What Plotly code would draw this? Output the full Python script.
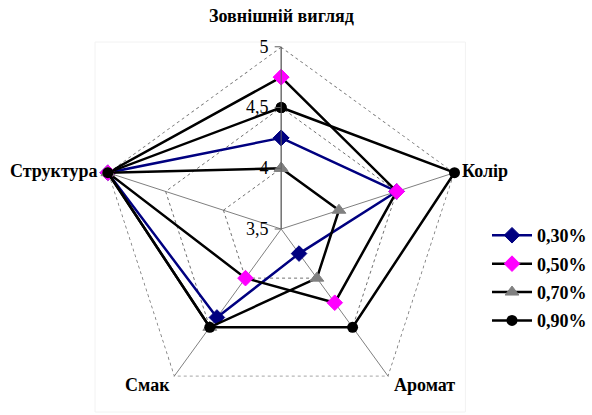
import math
import plotly.graph_objects as go

# Sensory profile categories (clockwise from the top)
categories = ["Зовнішній вигляд", "Колір", "Аромат", "Смак", "Структура"]

# Scores for each additive dose
series_names = ["0,30%", "0,50%", "0,70%", "0,90%"]
scores_030 = [4.25, 4.5, 3.75, 4.4, 5.0]
scores_050 = [4.75, 4.5, 4.25, 4.0, 5.0]
scores_070 = [4.0, 4.0, 4.0, 4.5, 5.0]
scores_090 = [4.5, 5.0, 4.5, 4.5, 5.0]

radial_ticks = [3.5, 4.0, 4.5, 5.0]
radial_tick_text = ["3,5", "4", "4,5", "5"]

FONT = "Liberation Serif, Times New Roman, serif"
W, H = 592, 415
DOM_X = [101 / W, 473 / W]
DOM_Y = [0.0, 372 / H]

styles = [
    dict(line=dict(color="#000080", width=2.5),
         marker=dict(symbol="diamond", size=12, color="#000080",
                     line=dict(color="#000080", width=1))),
    dict(line=dict(color="#000000", width=2.5),
         marker=dict(symbol="diamond", size=12, color="#FF00FF",
                     line=dict(color="#FF00FF", width=1))),
    dict(line=dict(color="#000000", width=2.5),
         marker=dict(symbol="triangle-up", size=12, color="#808080",
                     line=dict(color="#808080", width=1))),
    dict(line=dict(color="#000000", width=2.5),
         marker=dict(symbol="circle", size=11, color="#000000")),
]

fig = go.Figure()

# Outer dotted boundary at the axis maximum
fig.add_trace(go.Scatterpolar(
    r=[radial_ticks[-1]] * (len(categories) + 1),
    theta=categories + categories[:1],
    mode="lines",
    line=dict(color="#707070", width=1.5, dash="dot"),
    showlegend=False, hoverinfo="skip",
))

for name, vals, st in zip(series_names,
                          [scores_030, scores_050, scores_070, scores_090],
                          styles):
    fig.add_trace(go.Scatterpolar(
        r=vals + vals[:1],
        theta=categories + categories[:1],
        mode="lines+markers",
        name=name,
        legendgroup=name,
        line=st["line"],
        marker=st["marker"],
    ))

# Category labels placed next to the outer vertices of the polar frame
w_px = (DOM_X[1] - DOM_X[0]) * W
h_px = (DOM_Y[1] - DOM_Y[0]) * H
radius_px = min(w_px, h_px) / 2
cx = (DOM_X[0] + DOM_X[1]) / 2
cy = (DOM_Y[0] + DOM_Y[1]) / 2
label_opts = [
    dict(xanchor="center", yanchor="middle", xshift=0, yshift=27),
    dict(xanchor="left", yanchor="middle", xshift=6, yshift=1),
    dict(xanchor="left", yanchor="middle", xshift=4, yshift=-6),
    dict(xanchor="right", yanchor="middle", xshift=-2, yshift=-6),
    dict(xanchor="right", yanchor="middle", xshift=-8, yshift=1),
]
annotations = []
for k, (cat, opt) in enumerate(zip(categories, label_opts)):
    ang = math.radians(90 - 72 * k)
    annotations.append(dict(
        text=f"<b>{cat}</b>", xref="paper", yref="paper", showarrow=False,
        x=cx + radius_px * math.cos(ang) / W,
        y=cy + radius_px * math.sin(ang) / H,
        font=dict(family=FONT, size=18, color="#000000"),
        **opt,
    ))

fig.update_layout(
    width=W, height=H,
    margin=dict(l=0, r=0, t=0, b=0),
    paper_bgcolor="white",
    plot_bgcolor="white",
    font=dict(family=FONT, size=18, color="#000000"),
    polar=dict(
        domain=dict(x=DOM_X, y=DOM_Y),
        bgcolor="white",
        gridshape="linear",
        angularaxis=dict(
            direction="clockwise",
            rotation=90,
            showline=False,
            gridcolor="#808080",
            gridwidth=1,
            ticks="",
            showticklabels=False,
        ),
        radialaxis=dict(
            range=[3.5, 5.0],
            tickvals=radial_ticks,
            ticktext=radial_tick_text,
            angle=90,
            tickangle=90,
            side="counterclockwise",
            showline=True,
            linecolor="#606060",
            linewidth=1,
            gridcolor="#707070",
            gridwidth=1.3,
            griddash="dot",
            ticks="outside",
            ticklen=6,
            tickcolor="#606060",
            tickfont=dict(family=FONT, size=18, color="#000000"),
        ),
    ),
    annotations=annotations,
    legend=dict(
        x=0.84, y=0.33, xanchor="left", yanchor="middle",
        font=dict(family=FONT, size=18, color="#000000", weight="bold"),
        itemwidth=40,
        tracegroupgap=2,
        bgcolor="rgba(0,0,0,0)",
    ),
    shapes=[
        dict(type="rect", xref="paper", yref="paper",
             x0=97 / W, x1=475 / W, y0=1 - 412 / H, y1=1 - 42 / H,
             line=dict(color="#f2f2f2", width=1), layer="below"),
    ],
)

fig.write_html("out.html")
